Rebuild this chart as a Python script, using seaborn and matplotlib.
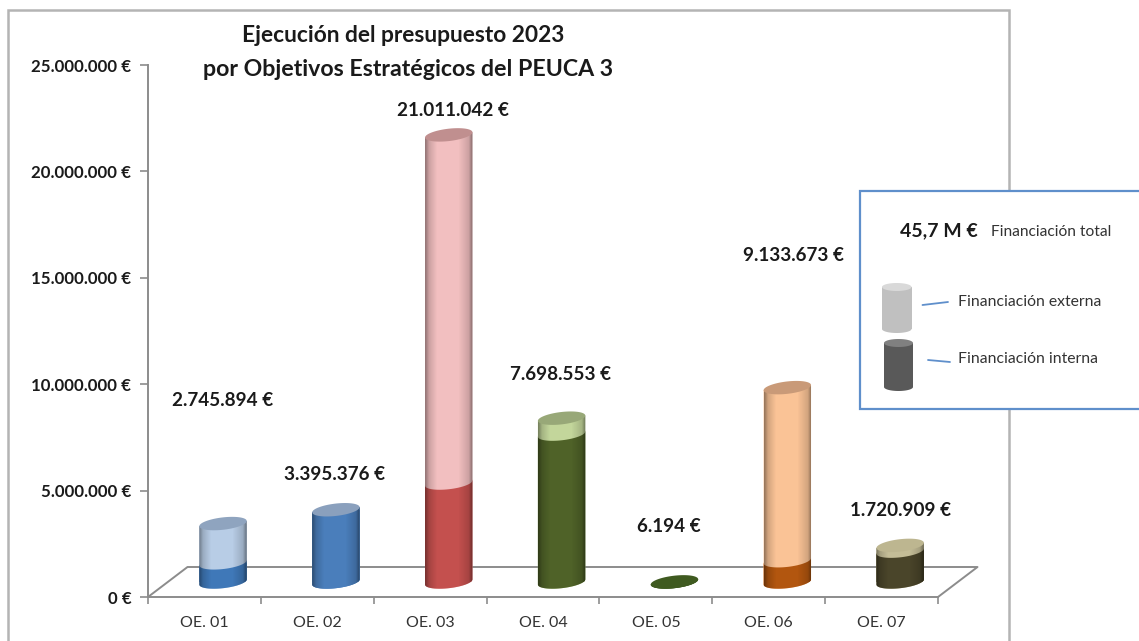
import numpy as np
import pandas as pd
import seaborn as sns
import matplotlib
matplotlib.use("Agg")
import matplotlib.pyplot as plt
from matplotlib.lines import Line2D
from matplotlib.patches import Polygon, Rectangle
from matplotlib.transforms import Affine2D, IdentityTransform

# data
categories = ['OE. 01', 'OE. 02', 'OE. 03', 'OE. 04', 'OE. 05', 'OE. 06', 'OE. 07']
total = [2745894, 3395376, 21011042, 7698553, 6194, 9133673, 1720909]
interna = [900000, 3395376, 4650000, 6950000, 6194, 1000000, 1450000]
value_labels = ['2.745.894 €', '3.395.376 €', '21.011.042 €', '7.698.553 €',
                '6.194 €', '9.133.673 €', '1.720.909 €']
y_ticks = [0, 5000000, 10000000, 15000000, 20000000, 25000000]
y_labels = ['0 €', '5.000.000 €', '10.000.000 €', '15.000.000 €', '20.000.000 €', '25.000.000 €']

# colours per bar
color_int = ['#3f78b8', '#4a7ebb', '#c4504e', '#4f6228', '#3f5a20', '#b2560f', '#4a452a']
color_ext = ['#b8cde6', '#4a7ebb', '#f2bfc0', '#c3d69b', '#3f5a20', '#fac396', '#c4bd97']
color_top = ['#8fa4bf', '#8aa0bd', '#c08f8f', '#98a878', '#3f5a20', '#c99a78', '#bdb690']

# label centres in pixels of the 1139x641 picture
label_xy = [(223, 400), (335, 475), (453, 111), (561, 375), (669, 526), (793, 255), (901, 510)]

W, H = 1139, 641
FONT = ['Lato', 'DejaVu Sans']
TXT = '#1a1a1a'
AXC = '#8c8c8c'
A, B, K = 23.7, 6.2, 2.6  # half width, half height and tilt of the cylinder ends, px

sns.set_style('white')
plt.rcParams['font.family'] = FONT

df = pd.DataFrame({'oe': categories, 'total': total, 'interna': interna})

fig = plt.figure(figsize=(W / 100, H / 100), dpi=100, facecolor='white')
ax = fig.add_axes([148 / W, 1 - 597 / H, 790 / W, 532 / H])
ax.patch.set_visible(False)


def fx(x):
    return x / W


def fy(y):
    return 1 - y / H


def ellipse_pts(cx, cy):
    t = np.linspace(0, 2 * np.pi, 80)
    return np.c_[cx + A * np.cos(t), cy + B * np.sin(t) + K * np.cos(t)]


def body_pts(cx, cy0, cy):
    # lower half of the bottom end, then straight up to the tilted line at cy
    t = np.linspace(np.pi, 2 * np.pi, 40)
    low = np.c_[cx + A * np.cos(t), cy0 + B * np.sin(t) + K * np.cos(t)]
    return np.vstack([low, [cx + A, cy + K], [cx - A, cy - K]])


# outer frame of the chart, runs off the bottom
fig.add_artist(Rectangle((fx(8), fy(660)), fx(1000.5), 650 / H, transform=fig.transFigure,
                         fill=False, ec='#b4b4b4', lw=1.8, zorder=-1))

# bars, total first and the internal part on top of it
sns.barplot(data=df, x='oe', y='total', hue='oe', palette=color_ext, legend=False, width=0.42,
            saturation=1, errorbar=None, linewidth=0, zorder=3, ax=ax)
n_bars = len(ax.patches)
sns.barplot(data=df, x='oe', y='interna', hue='oe', palette=color_int, legend=False, width=0.42,
            saturation=1, errorbar=None, linewidth=0, zorder=3.1, ax=ax)

ax.set_xlim(-0.5, 6.5)
ax.set_ylim(0, 25000000)
ax.set_xlabel('')
ax.set_ylabel('')
ax.set_yticks(y_ticks, y_labels)
ax.set_xticks(np.arange(-0.5, 7), minor=True)
ax.tick_params(axis='x', which='major', length=0, pad=14, labelsize=11.5, labelcolor='#333333')
ax.tick_params(axis='x', which='minor', length=5, width=1.2, color=AXC, bottom=True)
ax.tick_params(axis='y', length=6, width=1.2, color=AXC, left=True, pad=6, labelsize=12.2,
               labelcolor=TXT)
for lab in ax.get_yticklabels():
    lab.set_fontweight('bold')
sns.despine(ax=ax, top=True, right=True)
for side in ['left', 'bottom']:
    ax.spines[side].set_color(AXC)
    ax.spines[side].set_linewidth(1.4)

# bars stand back from the axis by the depth of the floor
shift = ax.transData + Affine2D().translate(18.6, 15)
p0 = ax.transData.transform((-0.5, 0))
p1 = ax.transData.transform((6.5, 0))
fl = np.array([p0, p0 + (39.5, 30), p1 + (39.5, 30), p1])
ax.add_line(Line2D(fl[:, 0], fl[:, 1], transform=IdentityTransform(), color=AXC, lw=1.4,
                   clip_on=False, zorder=1))

# shading across a cylinder
shade = np.zeros((1, 64, 4))
prof = np.interp(np.linspace(0, 1, 64), [0, 0.08, 0.25, 0.7, 0.92, 1], [0.4, 0.16, 0, 0, 0.16, 0.45])
shade[0, :, 3] = prof

for i in range(len(categories)):
    light_bar = ax.patches[i]
    dark_bar = ax.patches[n_bars + i]
    light_bar.set_transform(shift)
    dark_bar.set_transform(shift)

    cx, cy0 = shift.transform((i, 0))
    _, cy1 = shift.transform((i, interna[i]))
    _, cy2 = shift.transform((i, total[i]))

    # keep the square corners of the bars inside the round shape
    light_clip = Polygon(body_pts(cx, cy0, cy2), closed=True, transform=IdentityTransform())
    dark_clip = Polygon(body_pts(cx, cy0, cy1), closed=True, transform=IdentityTransform())
    light_bar.set_clip_path(light_clip)
    dark_bar.set_clip_path(dark_clip)
    ax.add_patch(Polygon(body_pts(cx, cy0, cy2), closed=True, fc=color_ext[i], lw=0,
                         transform=IdentityTransform(), zorder=2.9))
    ax.add_patch(Polygon(body_pts(cx, cy0, cy1), closed=True, fc=color_int[i], lw=0,
                         transform=IdentityTransform(), zorder=3.05))
    if total[i] > interna[i]:
        ax.add_patch(Polygon(ellipse_pts(cx, cy1), closed=True, fc=color_ext[i], lw=0,
                             transform=IdentityTransform(), zorder=3.2))

    if total[i] > 100000:
        im = ax.imshow(shade, aspect='auto', zorder=3.3,
                       extent=(i - 0.21, i + 0.21, -800000, total[i] + 400000),
                       transform=shift, interpolation='bilinear')
        im.set_clip_path(Polygon(body_pts(cx, cy0, cy2), closed=True,
                                 transform=IdentityTransform()))
    ax.add_patch(Polygon(ellipse_pts(cx, cy2), closed=True, fc=color_top[i], lw=0,
                         transform=IdentityTransform(), zorder=3.4))

ax.set_xlim(-0.5, 6.5)
ax.set_ylim(0, 25000000)

# title and value labels
fig.text(fx(403), fy(35), 'Ejecución del presupuesto 2023', ha='center', va='center',
         fontsize=16.4, fontweight='bold', color=TXT)
fig.text(fx(408.5), fy(69), 'por Objetivos Estratégicos del PEUCA 3', ha='center', va='center',
         fontsize=16.7, fontweight='bold', color=TXT)
for (lx, ly), txt in zip(label_xy, value_labels):
    fig.text(fx(lx), fy(ly), txt, ha='center', va='center', fontsize=13.6, fontweight='bold',
             color=TXT)

# legend box
fig.add_artist(Rectangle((fx(859.5), fy(409)), fx(300), 218 / H, transform=fig.transFigure,
                         fc='white', ec='#5f8fcb', lw=1.6, zorder=5))


def legend_cyl(x0, x1, y0, y1, body, top):
    cx = (x0 + x1) / 2
    a = (x1 - x0) / 2
    t = np.linspace(0, 2 * np.pi, 60)
    tp = np.c_[cx + a * np.cos(t), H - y0 - 4 + 4 * np.sin(t)]
    bt = np.c_[cx + a * np.cos(t), H - y1 + 4 + 4 * np.sin(t)]
    mid = [(x0, H - y0 - 4), (x1, H - y0 - 4), (x1, H - y1 + 4), (x0, H - y1 + 4)]
    for pts, c in ((bt, body), (mid, body), (tp, top)):
        fig.add_artist(Polygon(pts, closed=True, fc=c, lw=0, transform=IdentityTransform(),
                               zorder=6))


legend_cyl(882, 911.5, 283, 333, '#c0c0c0', '#d9d9d9')
legend_cyl(884, 913, 339, 391, '#595959', '#808080')
fig.add_artist(Line2D([fx(922.5), fx(948)], [fy(305), fy(302)], color='#5f8fcb', lw=1.3, zorder=6))
fig.add_artist(Line2D([fx(928), fx(950)], [fy(360), fy(362)], color='#5f8fcb', lw=1.3, zorder=6))
fig.text(fx(939), fy(231), '45,7 M €', ha='center', va='center', fontsize=14, fontweight='bold',
         color=TXT, zorder=7)
fig.text(fx(991), fy(232), 'Financiación total', ha='left', va='center', fontsize=11.2,
         color='#333333', zorder=7)
fig.text(fx(958), fy(302), 'Financiación externa', ha='left', va='center', fontsize=11.3,
         color='#333333', zorder=7)
fig.text(fx(958), fy(359), 'Financiación interna', ha='left', va='center', fontsize=11.3,
         color='#333333', zorder=7)

fig.savefig('out.png', dpi=100)
